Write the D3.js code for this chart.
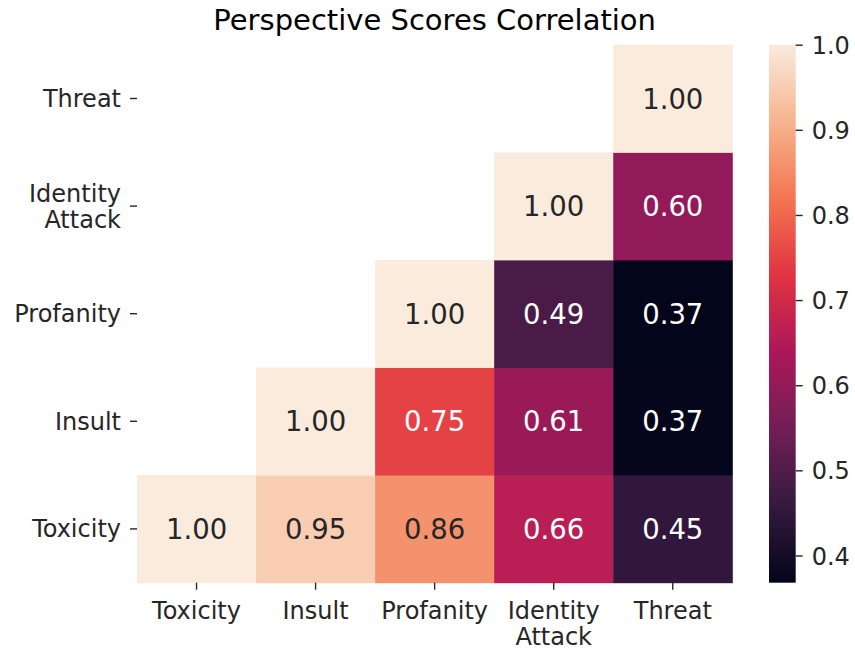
<!DOCTYPE html>
<html>
<head>
<meta charset="utf-8">
<script src="https://cdn.jsdelivr.net/npm/d3@7"></script>
<style>
  body { margin: 0; background: #fff; }
  text { font-family: "DejaVu Sans", sans-serif; }
</style>
</head>
<body>
<svg id="chart" width="855" height="649"></svg>
<script>
// categories, in column order (rows are drawn bottom-up)
var categories = ["Toxicity", "Insult", "Profanity", "Identity Attack", "Threat"];

// correlation rows, one per category (upper part only is shown)
var toxicityRow = [1.00, 0.95, 0.86, 0.66, 0.45];
var insultRow   = [0.95, 1.00, 0.75, 0.61, 0.372];
var profanityRow = [0.86, 0.75, 1.00, 0.49, 0.368];
var identityRow = [0.66, 0.61, 0.49, 1.00, 0.60];
var threatRow   = [0.45, 0.372, 0.368, 0.60, 1.00];
var corr = [toxicityRow, insultRow, profanityRow, identityRow, threatRow];

var colorbarTicks = [0.4, 0.5, 0.6, 0.7, 0.8, 0.9, 1.0];

// rocket palette samples
var rocketStops = ["#03051a", "#35193e", "#701f57", "#ad1759", "#e13342", "#f37651", "#f6b48f", "#faebdd"];

function load() {
  var svg = d3.select("#chart");
  var left = 137, right = 732.3, top = 44.7, bottom = 582.7;

  var cells = [];
  corr.forEach(function(row, i) {
    row.forEach(function(v, j) {
      if (j >= i) cells.push({row: categories[i], col: categories[j], value: v});
    });
  });

  var vmin = d3.min(cells, function(d) { return d.value; });
  var vmax = d3.max(cells, function(d) { return d.value; });

  var t = d3.scaleLinear().domain([vmin, vmax]).range([0, 1]);
  var rocket = d3.scaleLinear()
    .domain(rocketStops.map(function(c, k) { return k / (rocketStops.length - 1); }))
    .range(rocketStops)
    .interpolate(d3.interpolateRgb)
    .clamp(true);
  var color = function(v) { return rocket(t(v)); };

  var x = d3.scaleBand().domain(categories).range([left, right]);
  var y = d3.scaleBand().domain(categories.slice().reverse()).range([top, bottom]);

  // text colour rule like seaborn
  function lum(c) {
    var rgb = d3.rgb(c);
    var f = function(u) { u = u / 255; return u <= 0.03928 ? u / 12.92 : Math.pow((u + 0.055) / 1.055, 2.4); };
    return 0.2126 * f(rgb.r) + 0.7152 * f(rgb.g) + 0.0722 * f(rgb.b);
  }

  svg.selectAll("rect.cell").data(cells).enter().append("rect")
    .attr("class", "cell")
    .attr("x", function(d) { return x(d.col); })
    .attr("y", function(d) { return y(d.row); })
    .attr("width", x.bandwidth() + 0.5)
    .attr("height", y.bandwidth() + 0.5)
    .style("fill", function(d) { return color(d.value); });

  svg.selectAll("text.annot").data(cells).enter().append("text")
    .attr("class", "annot")
    .attr("x", function(d) { return x(d.col) + x.bandwidth() / 2; })
    .attr("y", function(d) { return y(d.row) + y.bandwidth() / 2 + 10; })
    .attr("text-anchor", "middle")
    .style("font-size", "27.5px")
    .style("fill", function(d) { return lum(color(d.value)) > 0.408 ? "#262626" : "#ffffff"; })
    .text(function(d) { return d.value.toFixed(2); });

  // x axis
  var gx = svg.append("g").attr("transform", "translate(0," + bottom + ")")
    .call(d3.axisBottom(x).tickSize(7).tickPadding(7));
  gx.select(".domain").remove();
  gx.selectAll(".tick line").style("stroke", "#262626").style("stroke-width", 1.4);
  gx.selectAll(".tick text").each(function(d) {
    var el = d3.select(this).text(null).attr("dy", null).attr("y", 0).style("font-size", "24px").style("fill", "#262626");
    d.split(" ").forEach(function(w, k) {
      el.append("tspan").attr("x", 0).attr("y", 36 + k * 26).text(w);
    });
  });

  // y axis
  var gy = svg.append("g").attr("transform", "translate(" + left + ",0)")
    .call(d3.axisLeft(y).tickSize(7).tickPadding(9));
  gy.select(".domain").remove();
  gy.selectAll(".tick line").style("stroke", "#262626").style("stroke-width", 1.4);
  gy.selectAll(".tick text").each(function(d) {
    var el = d3.select(this).text(null).attr("dy", null).style("font-size", "24px").style("fill", "#262626");
    var words = d.split(" ");
    words.forEach(function(w, k) {
      el.append("tspan").attr("x", -16).attr("y", 8.5 + (k - (words.length - 1) / 2) * 26).text(w);
    });
  });

  // colorbar
  var cbx = 769, cbw = 26.7;
  var cy = d3.scaleLinear().domain([vmin, vmax]).range([bottom, top]);
  var grad = svg.append("defs").append("linearGradient").attr("id", "cbgrad")
    .attr("x1", 0).attr("y1", 1).attr("x2", 0).attr("y2", 0);
  d3.range(0, 1.0001, 0.02).forEach(function(s) {
    grad.append("stop").attr("offset", s).attr("stop-color", rocket(s));
  });
  svg.append("rect").attr("x", cbx).attr("y", top).attr("width", cbw).attr("height", bottom - top)
    .style("fill", "url(#cbgrad)");
  var gc = svg.append("g").attr("transform", "translate(" + (cbx + cbw) + ",0)")
    .call(d3.axisRight(cy).tickValues(colorbarTicks).tickFormat(d3.format(".1f")).tickSize(7).tickPadding(9));
  gc.select(".domain").remove();
  gc.selectAll(".tick line").style("stroke", "#262626").style("stroke-width", 1.4);
  gc.selectAll(".tick text").attr("dy", "0.36em").style("font-size", "24px").style("fill", "#262626");

  // title
  svg.append("text")
    .attr("x", (left + right) / 2)
    .attr("y", 30)
    .attr("text-anchor", "middle")
    .style("font-size", "29px")
    .style("fill", "#000")
    .text("Perspective Scores Correlation");
}

load();
</script>
</body>
</html>
